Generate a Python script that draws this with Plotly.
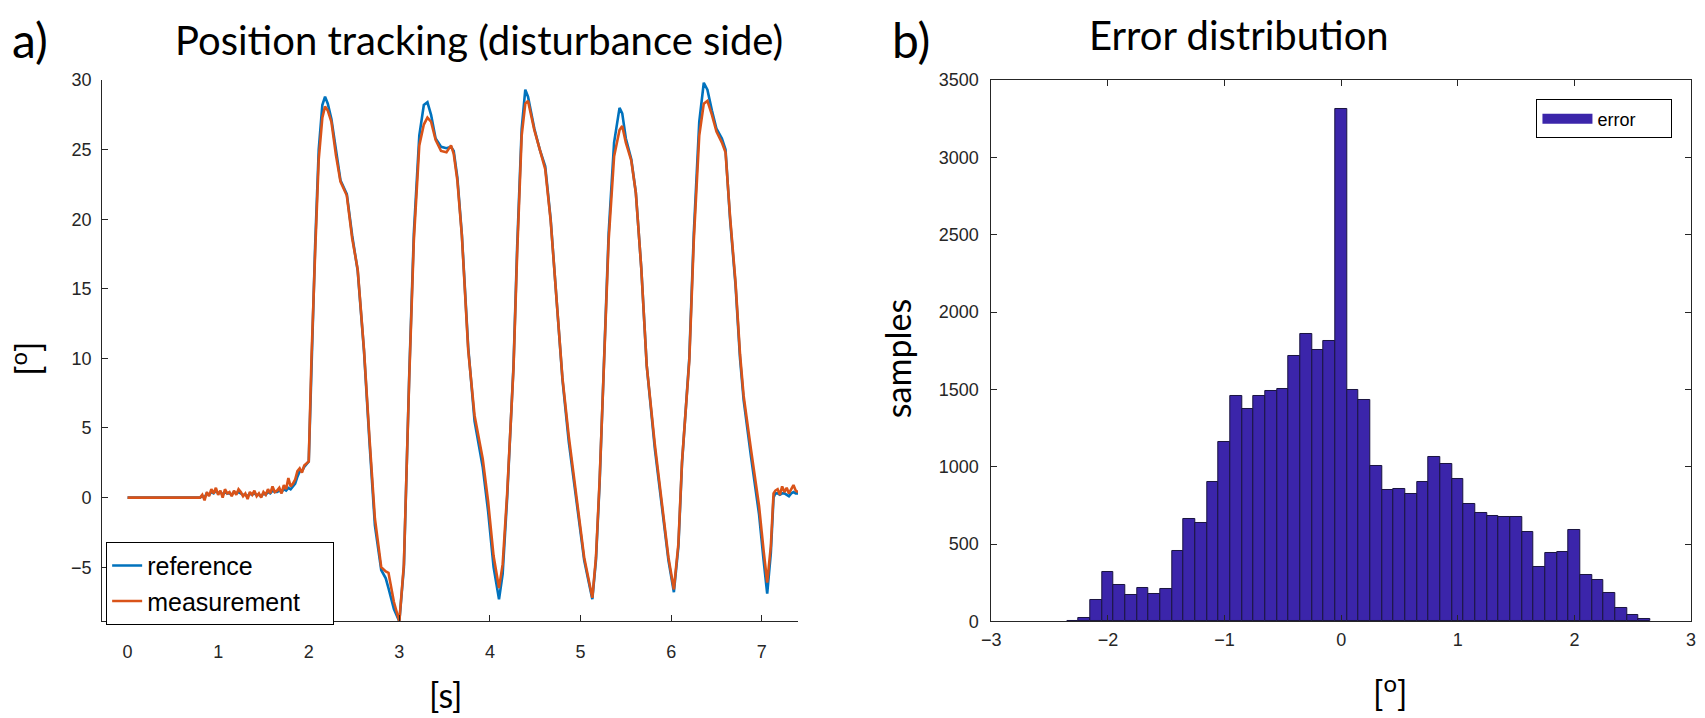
import plotly.graph_objects as go

W, H = 1705, 718

# ---------------- data: position tracking ----------------
t_start = [0.0, 0.8]
ref_start = [0.0, 0.0]
meas_start = [0.0, 0.0]

# noisy pre-motion segment 0.8 .. 1.95 s (0.025 s sampling)
t_pre = [round(0.8 + 0.025 * i, 3) for i in range(47)]
meas_pre = [0.0, 0.2, -0.2, 0.4, 0.1, 0.6, 0.3, 0.7, 0.2, 0.5,
            0.0, 0.6, 0.3, 0.4, 0.1, 0.5, 0.2, 0.6, 0.4, 0.1,
            0.3, -0.1, 0.4, 0.2, 0.5, 0.1, 0.3, 0.0, 0.4, 0.2,
            0.6, 0.3, 0.8, 0.4, 0.5, 0.7, 0.3, 0.9, 0.6, 1.4,
            0.8, 1.0, 1.3, 1.9, 2.1, 1.8, 2.3]
ref_pre = [0.0, 0.1, 0.0, 0.3, 0.2, 0.4, 0.3, 0.5, 0.3, 0.4,
           0.2, 0.4, 0.3, 0.3, 0.2, 0.4, 0.3, 0.4, 0.3, 0.2,
           0.2, 0.1, 0.3, 0.2, 0.3, 0.2, 0.2, 0.1, 0.3, 0.2,
           0.4, 0.3, 0.5, 0.4, 0.4, 0.5, 0.4, 0.6, 0.5, 0.7,
           0.6, 0.8, 1.0, 1.5, 1.9, 1.9, 2.2]

# five tracking cycles
t_cyc = [2.00, 2.03, 2.07, 2.11, 2.15, 2.18, 2.21, 2.25, 2.30, 2.35,
         2.42, 2.48, 2.54, 2.61, 2.67, 2.73, 2.80, 2.85, 2.88, 2.94,
         3.00, 3.05, 3.11, 3.16, 3.22, 3.27, 3.31, 3.35, 3.40, 3.46,
         3.52, 3.57, 3.60, 3.64, 3.69, 3.76, 3.83, 3.92, 3.98, 4.04,
         4.10, 4.14, 4.19, 4.26, 4.30, 4.35, 4.39, 4.42, 4.49, 4.55,
         4.61, 4.67, 4.75, 4.80, 4.87, 4.95, 5.04, 5.13, 5.17, 5.21,
         5.26, 5.31, 5.37, 5.43, 5.46, 5.50, 5.56, 5.61, 5.67, 5.73,
         5.82, 5.90, 5.97, 6.03, 6.08, 6.12, 6.20, 6.25, 6.31, 6.36,
         6.40, 6.45, 6.50, 6.56, 6.60, 6.65, 6.71, 6.76, 6.80, 6.88,
         6.97, 7.02, 7.06, 7.10, 7.13, 7.15]
ref_cyc = [2.6, 10.0, 18.0, 25.0, 28.2, 28.8, 28.3, 27.2, 24.8, 22.8,
           21.8, 18.8, 16.3, 10.5, 4.0, -2.0, -5.2, -5.8, -6.5, -8.0,
           -8.9, -5.0, 9.0, 19.0, 26.0, 28.2, 28.4, 27.5, 25.8, 25.2,
           25.1, 25.2, 24.9, 23.0, 18.9, 10.8, 5.5, 2.2, -1.0, -5.0,
           -7.3, -5.5, 0.0, 9.5, 18.0, 26.5, 29.3, 28.8, 26.5, 25.0,
           23.8, 20.0, 12.9, 8.5, 4.0, -0.2, -4.5, -7.3, -4.5, 1.0,
           10.0, 19.0, 25.5, 28.0, 27.6, 25.8, 24.3, 21.9, 16.5, 9.5,
           3.5, -1.0, -4.5, -6.8, -3.5, 2.5, 10.0, 19.0, 27.0, 29.8,
           29.3, 27.8, 26.5, 25.8, 25.0, 20.0, 15.3, 10.0, 7.0, 3.0,
           -1.2, -4.5, -6.9, -4.0, 0.0, 0.3]
meas_cyc = [2.6, 10.0, 17.5, 24.3, 27.3, 28.1, 27.8, 27.0, 24.6, 22.7,
            21.7, 18.6, 16.4, 10.6, 4.3, -1.5, -5.0, -5.3, -5.4, -7.5,
            -8.9, -4.8, 8.8, 18.5, 25.3, 26.8, 27.3, 27.0, 25.7, 24.9,
            24.8, 25.3, 24.7, 22.8, 18.8, 10.6, 5.9, 2.8, -0.3, -4.2,
            -6.5, -4.8, 0.3, 9.3, 17.5, 26.0, 28.3, 28.5, 26.4, 25.0,
            23.6, 19.9, 12.9, 8.6, 4.4, 0.2, -4.3, -7.2, -4.3, 1.2,
            9.8, 18.5, 24.5, 26.4, 26.7, 25.5, 24.2, 21.9, 16.5, 9.5,
            3.8, -0.7, -4.3, -6.6, -3.3, 2.6, 9.8, 18.5, 26.0, 28.3,
            28.5, 27.5, 26.3, 25.5, 24.8, 20.2, 15.5, 10.3, 7.3, 3.5,
            -0.6, -3.8, -6.1, -3.5, 0.3, 0.5]

# noisy rest segment after the last cycle, 7.175 .. 7.4 s
t_post = [7.175, 7.2, 7.225, 7.25, 7.275, 7.3, 7.325, 7.35, 7.375, 7.4]
meas_post = [0.6, 0.2, 0.8, 0.4, 0.7, 0.3, 0.6, 0.9, 0.5, 0.4]
ref_post = [0.3, 0.2, 0.3, 0.3, 0.2, 0.1, 0.3, 0.4, 0.3, 0.3]

time_s = t_start + t_pre + t_cyc + t_post
reference = ref_start + ref_pre + ref_cyc + ref_post
measurement = meas_start + meas_pre + meas_cyc + meas_post

# ---------------- data: error histogram ----------------
bin_centers = [round(-2.3 + 0.1 * i, 2) for i in range(50)]
error_counts = [5, 25, 138, 323, 234, 174, 219, 179, 209, 453,
                664, 638, 904, 1162, 1455, 1372, 1455, 1489, 1504, 1717,
                1860, 1755, 1811, 3310, 1498, 1430, 1006, 847, 857, 823,
                904, 1060, 1017, 919, 762, 702, 679, 677, 677, 579,
                355, 440, 447, 590, 300, 270, 185, 90, 40, 15]

left_xticks = [0, 1, 2, 3, 4, 5, 6, 7]
left_yticks = [-5, 0, 5, 10, 15, 20, 25, 30]
right_xticks = [-3, -2, -1, 0, 1, 2, 3]
right_yticks = [0, 500, 1000, 1500, 2000, 2500, 3000, 3500]

BAR_FILL = "#3B25AA"
BAR_EDGE = "#1A1440"
NB = "\u00a0"  # padding so the legend boxes get the original's width

# ---------------- figure ----------------
fig = go.Figure()
fig.add_trace(go.Scatter(x=time_s, y=reference, mode="lines", name="reference",
                         line=dict(color="#0072BD", width=2.6),
                         xaxis="x", yaxis="y", legend="legend"))
fig.add_trace(go.Scatter(x=time_s, y=measurement, mode="lines", name="measurement" + NB * 4,
                         line=dict(color="#D95319", width=2.6),
                         xaxis="x", yaxis="y", legend="legend"))
fig.add_trace(go.Bar(x=bin_centers, y=error_counts, width=0.1, name="error",
                     marker=dict(color=BAR_FILL, line=dict(color=BAR_EDGE, width=1)),
                     xaxis="x2", yaxis="y2", showlegend=False))
# legend proxy for the histogram (wide patch like the original)
fig.add_trace(go.Scatter(x=[None], y=[None], mode="lines", name="error" + NB * 6,
                         line=dict(color=BAR_FILL, width=18),
                         xaxis="x2", yaxis="y2", legend="legend2"))

tickfont = dict(family="Liberation Sans Narrow, Liberation Sans, Arial", size=18, color="#262626")
axcommon = dict(showgrid=False, zeroline=False, ticks="inside", ticklen=6,
                tickcolor="#262626", linecolor="#262626", linewidth=1,
                showline=True, tickfont=tickfont)

TOP, BOT = 72, 629
fig.update_layout(
    width=W, height=H,
    margin=dict(l=0, r=0, t=0, b=0),
    paper_bgcolor="white", plot_bgcolor="white",
    bargap=0,
    xaxis=dict(domain=[93 / W, 795 / W], range=[-0.28, 7.4], tickvals=left_xticks,
               anchor="y", mirror=False, ticklabelstandoff=14, **axcommon),
    yaxis=dict(domain=[1 - BOT / H, 1 - TOP / H], range=[-8.9, 30], tickvals=left_yticks,
               anchor="x", mirror=False, ticklabelstandoff=6, **axcommon),
    xaxis2=dict(domain=[990 / W, 1696 / W], range=[-3, 3], tickvals=right_xticks,
                anchor="y2", mirror="ticks", ticklabelstandoff=2, **axcommon),
    yaxis2=dict(domain=[1 - BOT / H, 1 - TOP / H], range=[0, 3500], tickvals=right_yticks,
                anchor="x2", mirror="ticks", ticklabelstandoff=8, **axcommon),
    legend=dict(x=97 / W, y=1 - 547 / H, xanchor="left", yanchor="top",
                bgcolor="white", bordercolor="#000000", borderwidth=1,
                font=dict(family="Liberation Sans, Arial", size=25, color="#000"),
                tracegroupgap=0, itemwidth=30),
    legend2=dict(x=1540 / W, y=1 - 92 / H, xanchor="left", yanchor="top",
                 bgcolor="white", bordercolor="#000000", borderwidth=1,
                 font=dict(family="Liberation Sans, Arial", size=18, color="#000"),
                 itemwidth=50),
    showlegend=True,
)

title_font = dict(family="Lato, Open Sans, sans-serif", size=40, color="#000")
label_font = dict(family="Lato, Open Sans, sans-serif", size=34, color="#000")
panel_font = dict(family="Lato, Open Sans, sans-serif", size=48, color="#000")
ann = [
    dict(text="a)", x=0 / W, y=1 - 30 / H, xanchor="left", yanchor="middle", font=panel_font),
    dict(text="b)", x=888 / W, y=1 - 30 / H, xanchor="left", yanchor="middle", font=panel_font),
    dict(text="Position tracking (disturbance side)", x=473 / W, y=1 - 31 / H,
         xanchor="center", yanchor="middle", font=title_font),
    dict(text="Error distribution", x=1240 / W, y=1 - 26 / H,
         xanchor="center", yanchor="middle", font=title_font),
    dict(text="[s]", x=440 / W, y=1 - 704 / H, xanchor="center", yanchor="middle", font=label_font),
    dict(text="[<sup>o</sup>]", x=1392 / W, y=1 - 701 / H, xanchor="center", yanchor="middle", font=label_font),
    dict(text="[<sup>o</sup>]", x=16 / W, y=1 - 359 / H, xanchor="center", yanchor="middle",
         textangle=-90, font=label_font),
    dict(text="samples", x=895 / W, y=1 - 359 / H, xanchor="center", yanchor="middle",
         textangle=-90, font=label_font),
]
for a in ann:
    a.update(xref="paper", yref="paper", showarrow=False)
fig.update_layout(annotations=ann)

fig.write_html("out.html", config={"displayModeBar": False},
               post_script="document.body.style.margin='0';")
